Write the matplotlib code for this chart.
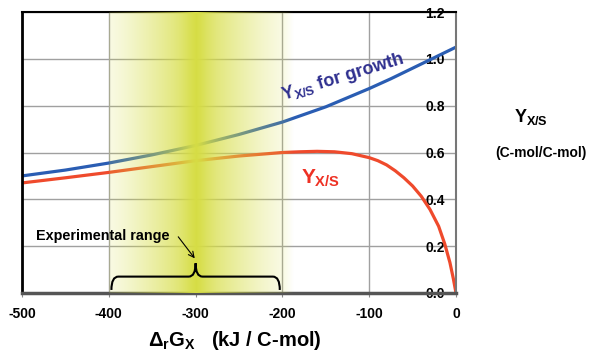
import numpy as np
import matplotlib
matplotlib.use('Agg')
import matplotlib.pyplot as plt
from matplotlib.path import Path
from matplotlib.patches import PathPatch

plt.rcParams['font.family'] = ['Liberation Sans', 'DejaVu Sans']
plt.rcParams['font.weight'] = 'bold'
plt.rcParams['axes.unicode_minus'] = False
plt.rcParams['mathtext.fontset'] = 'custom'
plt.rcParams['mathtext.rm'] = 'Liberation Sans:bold'
plt.rcParams['mathtext.it'] = 'Liberation Sans:bold'
plt.rcParams['mathtext.bf'] = 'Liberation Sans:bold'
plt.rcParams['mathtext.sf'] = 'Liberation Sans:bold'

# data
growth_dg = [-500, -450, -400, -350, -300, -250, -200, -150, -100, -75, -50,
             -25, 0]
growth_y = [0.50, 0.525, 0.555, 0.59, 0.63, 0.677, 0.73, 0.795, 0.873, 0.915,
            0.96, 1.005, 1.05]

yield_dg = [-500, -450, -400, -350, -300, -250, -200, -180, -160, -140, -120,
            -100, -90, -80, -70, -60, -50, -40, -30, -20, -13, -7, -3, 0]
yield_y = [0.47, 0.492, 0.515, 0.54, 0.565, 0.585, 0.60, 0.603, 0.605, 0.603,
           0.595, 0.578, 0.565, 0.547, 0.522, 0.492, 0.457, 0.413, 0.357,
           0.285, 0.21, 0.13, 0.06, 0.0]

x_ticks = [-500, -400, -300, -200, -100, 0]
y_ticks = [0.0, 0.2, 0.4, 0.6, 0.8, 1.0, 1.2]
exp_range = (-397, -203)   # experimental range
exp_center = -300

fig = plt.figure(figsize=(5.9, 3.57), dpi=100)
ax = fig.add_axes([22 / 590, 1 - 293 / 357, 434 / 590, 281 / 357])

ax.plot(growth_dg, growth_y, color='#2a5db3', lw=2.3, zorder=2,
        solid_capstyle='butt', solid_joinstyle='round')
ax.plot(yield_dg, yield_y, color='#ef4a2c', lw=2.3, zorder=2,
        solid_capstyle='butt', solid_joinstyle='round')

ax.set_xticks(x_ticks)
ax.set_yticks(y_ticks)
ax.set_yticklabels([f'{v:.1f}' for v in y_ticks])
ax.grid(True, color='#a0a0a0', lw=1, zorder=1)
ax.set_axisbelow(True)

# y labels inside the plot on the right
ax.yaxis.tick_right()
ax.tick_params(axis='y', length=0, pad=-8, labelsize=10)
for lab in ax.get_yticklabels():
    lab.set_horizontalalignment('right')
    lab.set_fontweight('bold')
ax.tick_params(axis='x', length=3, color='#888888', pad=7, labelsize=10)
for lab in ax.get_xticklabels():
    lab.set_fontweight('bold')

ax.spines['left'].set_color('black')
ax.spines['left'].set_linewidth(2)
ax.spines['top'].set_color('black')
ax.spines['top'].set_linewidth(1.5)
ax.spines['bottom'].set_color('#555555')
ax.spines['bottom'].set_linewidth(2.5)
ax.spines['right'].set_color('#777777')
ax.spines['right'].set_linewidth(1.5)

# shaded experimental region (gradient)
xs = np.linspace(-400, -188, 800)
d = np.abs(xs - exp_center)
alpha = 0.15 + 0.75 * np.clip(1 - d / 100, 0, 1) ** 1.2 \
    + 0.1 * np.exp(-(d / 15) ** 2)
alpha = np.where(xs > -200, 0.15 * (xs + 188) / -12, alpha)
alpha = np.clip(alpha, 0, 1)
img = np.zeros((1, len(xs), 4))
img[..., 0] = 0.84
img[..., 1] = 0.87
img[..., 2] = 0.27
img[..., 3] = alpha
ax.imshow(img, extent=[-400, -188, 0, 1.2], aspect='auto', zorder=3,
          interpolation='bilinear')
ax.set_xlim(-500, 0)
ax.set_ylim(0, 1.2)

# curve labels
ax.text(-199, 0.822, r'$Y_{X/S}$ for growth', color='#2e2f8f', fontsize=13,
        rotation=17, rotation_mode='anchor', ha='left', va='baseline',
        zorder=5)
ax.text(-178, 0.468, r'$Y_{X/S}$', color='#ee3124', fontsize=15,
        ha='left', va='baseline', zorder=5)

# brace for experimental range
x0, x1 = exp_range
yb, ym, yt = 0.013, 0.07, 0.127
r = 8
verts = [(x0, yb), (x0, ym), (x0 + r, ym),
         (exp_center - r, ym),
         (exp_center, ym), (exp_center, yt),
         (exp_center, ym), (exp_center + r, ym),
         (x1 - r, ym),
         (x1, ym), (x1, yb)]
codes = [Path.MOVETO, Path.CURVE3, Path.CURVE3,
         Path.LINETO,
         Path.CURVE3, Path.CURVE3,
         Path.CURVE3, Path.CURVE3,
         Path.LINETO,
         Path.CURVE3, Path.CURVE3]
ax.add_patch(PathPatch(Path(verts, codes), fill=False, lw=1.5,
                       edgecolor='black', zorder=5))

ax.text(-484, 0.225, 'Experimental range', fontsize=10.4, fontweight='bold',
        ha='left', va='baseline', zorder=6)
ax.annotate('', xy=(-301, 0.148), xytext=(-320, 0.24), zorder=6,
            arrowprops=dict(arrowstyle='->', color='black', lw=0.8,
                            shrinkA=0, shrinkB=0))

# axis titles
fig.text(235 / 590, 1 - 340 / 357, r'$\Delta_r G_X$   (kJ / C-mol)',
         fontsize=14.5, fontweight='bold', ha='center', va='center')
fig.text(531 / 590, 1 - 117 / 357, r'$Y_{X/S}$', fontsize=13,
         ha='center', va='center')
fig.text(541 / 590, 1 - 153 / 357, '(C-mol/C-mol)', fontsize=10,
         fontweight='bold', ha='center', va='center')

fig.savefig('out.png', dpi=100)
